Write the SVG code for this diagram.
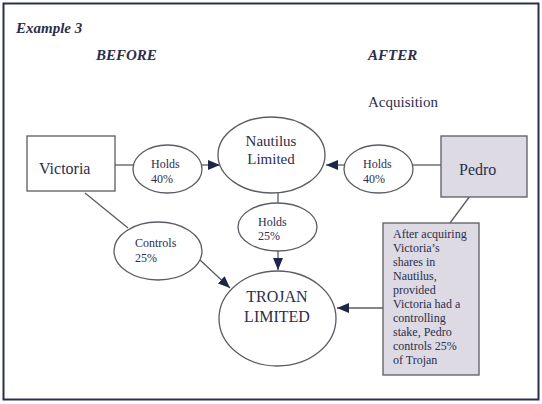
<svg xmlns="http://www.w3.org/2000/svg" width="542" height="404" viewBox="0 0 542 404" font-family="'Liberation Serif', 'DejaVu Serif', serif">
<defs>
<style>
text{font-family:'Liberation Serif','DejaVu Serif',serif;fill:#2b2e4c}
.hd{font-weight:bold;font-style:italic;font-size:15px}
.n{fill:#fff;stroke:#5a5c66;stroke-width:1.3}
.g{fill:#dddae3;stroke:#5a5c66;stroke-width:1.3}
.c{stroke:#5a5c66;stroke-width:1.3;fill:none}
.s{font-size:12px}
.m{font-size:15px}
</style>
<marker id="ah" viewBox="0 0 12 10" refX="12" refY="5" markerWidth="12" markerHeight="10" markerUnits="userSpaceOnUse" orient="auto">
<path d="M0,0 L12,5 L0,10 Z" fill="#1f2547"/>
</marker>
</defs>
<rect x="0" y="0" width="542" height="404" fill="#fff"/>
<rect x="3.5" y="3.5" width="535" height="396" fill="none" stroke="#2b2e4c" stroke-width="2"/>
<text class="hd" x="16" y="33">Example 3</text>
<text class="hd" x="96" y="60">BEFORE</text>
<text class="hd" x="368" y="60">AFTER</text>
<text x="368" y="107" font-size="15">Acquisition</text>

<g id="connectors">
<line class="c" x1="115" y1="165" x2="133" y2="165"/>
<line class="c" x1="202" y1="165" x2="220" y2="165" marker-end="url(#ah)"/>
<line class="c" x1="441" y1="165" x2="413" y2="165"/>
<line class="c" x1="344" y1="165" x2="326" y2="165" marker-end="url(#ah)"/>
<line class="c" x1="278" y1="193" x2="278" y2="203"/>
<line class="c" x1="278" y1="251" x2="278" y2="270" marker-end="url(#ah)"/>
<line class="c" x1="85" y1="193" x2="128" y2="228"/>
<line class="c" x1="200" y1="260" x2="230" y2="288" marker-end="url(#ah)"/>
<line class="c" x1="470" y1="196" x2="450" y2="223"/>
<line class="c" x1="383" y1="308" x2="337" y2="308" marker-end="url(#ah)"/>
</g>

<g id="victoria">
<rect class="n" x="27" y="136" width="88" height="55"/>
<text x="39" y="174" font-size="16">Victoria</text>
</g>
<g id="holds40-left">
<ellipse class="n" cx="167.5" cy="169" rx="34.5" ry="24"/>
<text class="s" x="151" y="168">Holds</text>
<text class="s" x="151" y="183">40%</text>
</g>
<g id="nautilus">
<ellipse class="n" cx="271.5" cy="155" rx="53.5" ry="38"/>
<text class="m" x="271" y="146" text-anchor="middle">Nautilus</text>
<text class="m" x="271" y="164" text-anchor="middle">Limited</text>
</g>
<g id="holds40-right">
<ellipse class="n" cx="378.5" cy="169" rx="34.5" ry="24"/>
<text class="s" x="363" y="168">Holds</text>
<text class="s" x="363" y="183">40%</text>
</g>
<g id="pedro">
<rect class="g" x="441" y="136" width="86" height="61"/>
<text x="459" y="175" font-size="16">Pedro</text>
</g>
<g id="holds25">
<ellipse class="n" cx="277.5" cy="227" rx="39.5" ry="24"/>
<text class="s" x="258" y="226">Holds</text>
<text class="s" x="258" y="240">25%</text>
</g>
<g id="controls25">
<ellipse class="n" cx="158" cy="251" rx="44" ry="29"/>
<text class="s" x="135" y="247">Controls</text>
<text class="s" x="135" y="262">25%</text>
</g>
<g id="trojan">
<ellipse class="n" cx="277.5" cy="318.5" rx="58.5" ry="47.5"/>
<text x="277" y="302" font-size="16" text-anchor="middle">TROJAN</text>
<text x="277" y="322" font-size="16" text-anchor="middle">LIMITED</text>
</g>
<g id="note">
<rect class="g" x="383" y="223" width="96" height="152"/>
<text class="s" x="393" y="238">After acquiring</text>
<text class="s" x="393" y="252">Victoria’s</text>
<text class="s" x="393" y="266">shares in</text>
<text class="s" x="393" y="280">Nautilus,</text>
<text class="s" x="393" y="294">provided</text>
<text class="s" x="393" y="308">Victoria had a</text>
<text class="s" x="393" y="322">controlling</text>
<text class="s" x="393" y="336">stake, Pedro</text>
<text class="s" x="393" y="350">controls 25%</text>
<text class="s" x="393" y="364">of Trojan</text>
</g>
</svg>
